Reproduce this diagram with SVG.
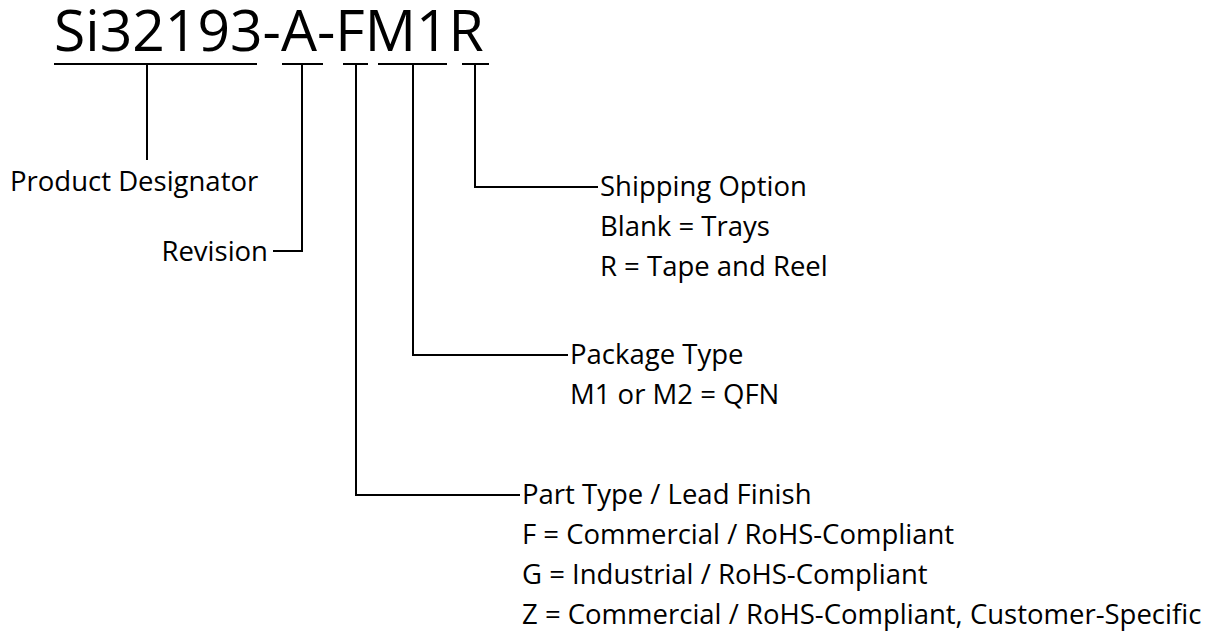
<svg xmlns="http://www.w3.org/2000/svg" width="1228" height="631" viewBox="0 0 1228 631">
<style>
text{font-family:"Open Sans","Noto Sans",sans-serif;fill:#000}
.t{font-size:57px}
.l{font-size:27.5px}
.c line,.c polyline{stroke:#000;stroke-width:2;fill:none}
</style>
<rect width="1228" height="631" fill="#fff"/>
<g id="title"><text class="t" x="54" y="51">Si32193-A-FM1R</text></g>
<g id="product"><text class="l" x="10" y="191">Product Designator</text></g>
<g id="revision"><text class="l" x="268" y="261" text-anchor="end">Revision</text></g>
<g id="shipping"><text class="l" x="600" y="196">Shipping Option</text><text class="l" x="600" y="236">Blank = Trays</text><text class="l" x="600" y="276">R = Tape and Reel</text></g>
<g id="package"><text class="l" x="570" y="364">Package Type</text><text class="l" x="570" y="404">M1 or M2 = QFN</text></g>
<g id="part"><text class="l" x="522" y="504">Part Type / Lead Finish</text><text class="l" x="522" y="544">F = Commercial / RoHS-Compliant</text><text class="l" x="522" y="584">G = Industrial / RoHS-Compliant</text><text class="l" x="522" y="624">Z = Commercial / RoHS-Compliant, Customer-Specific</text></g>
<g id="connectors" class="c">
<line x1="54" y1="64" x2="257" y2="64"/>
<line x1="282" y1="64" x2="323" y2="64"/>
<line x1="343" y1="64" x2="368" y2="64"/>
<line x1="378" y1="64" x2="447" y2="64"/>
<line x1="462" y1="64" x2="489" y2="64"/>
<line x1="147" y1="64" x2="147" y2="160"/>
<polyline points="302,64 302,251 273,251"/>
<polyline points="356,64 356,495 520,495"/>
<polyline points="413,64 413,355 568,355"/>
<polyline points="475,64 475,187 598,187"/>
</g>
</svg>
